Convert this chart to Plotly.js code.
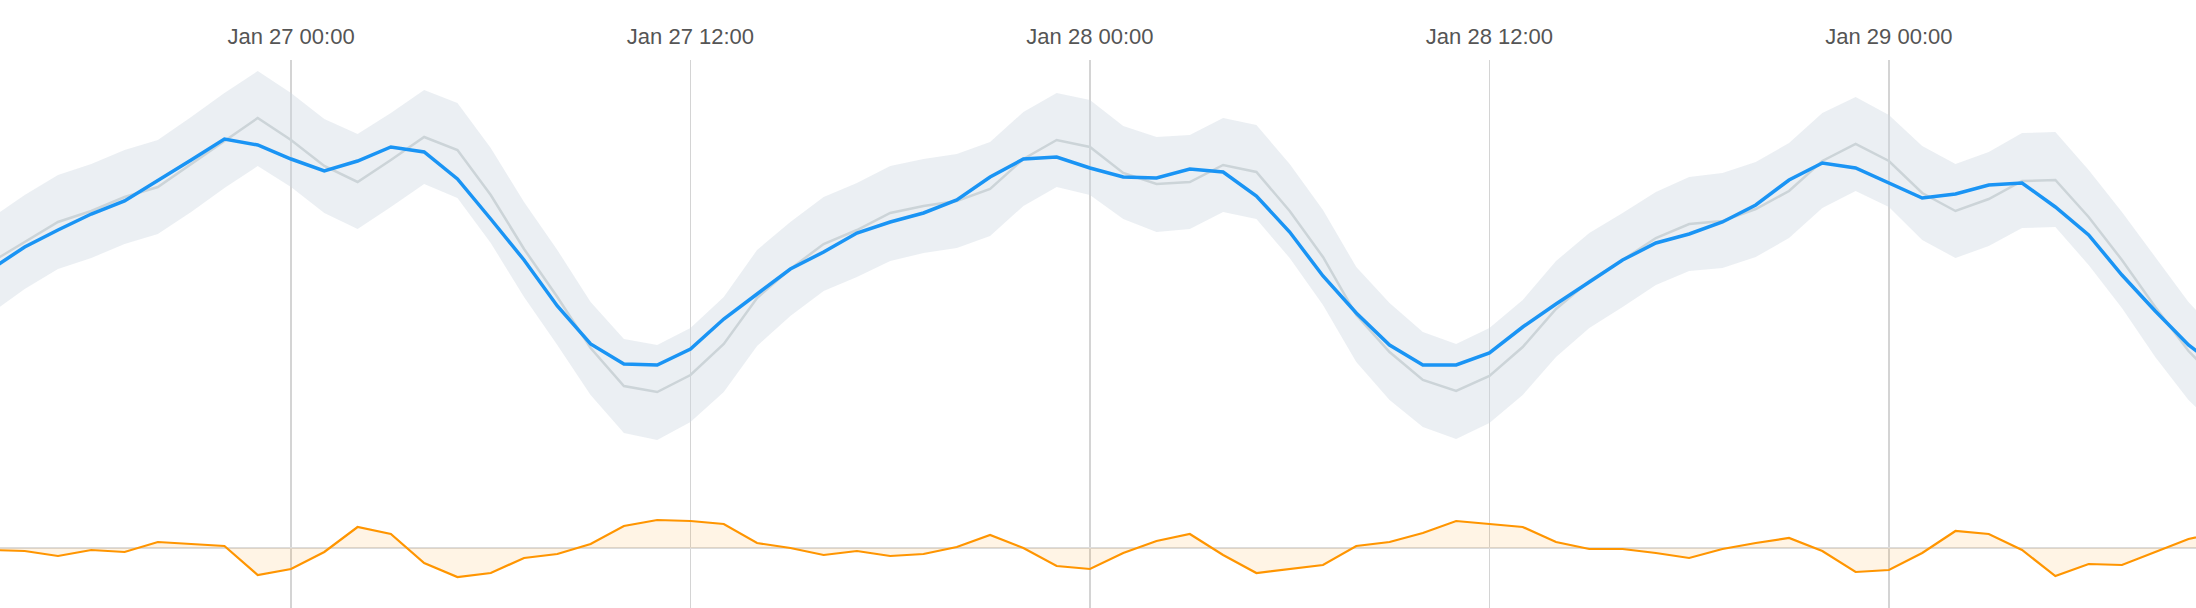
<!DOCTYPE html>
<html>
<head>
<meta charset="utf-8">
<script src="https://cdn.plot.ly/plotly-3.0.1.min.js"></script>
<style>
  html, body { margin: 0; padding: 0; background: #ffffff; }
  #chart { width: 2196px; height: 608px; }
</style>
</head>
<body>
<div id="chart"></div>
<script>
// Hourly samples, starting Jan 26 15:00
const startTime = '2020-01-26T15:00:00';
const hoursCount = 68;

// Actual series (blue)
const actual = [331,353,370,386,399,419,440,461,455,441,429,439,453,448,421,381,340,294,256,236,235,251,281,306,331,348,367,378,387,400,423,441,443,432,423,422,431,428,404,368,324,287,255,235,235,247,273,296,318,340,357,366,378,395,420,437,432,417,402,406,415,417,393,365,325,289,255,230];

// Expected series (grey)
const expected = [338,358,378,389,403,413,436,459,482,460,434,418,440,463,450,405,351,303,252,214,208,225,256,302,331,356,370,387,394,399,411,441,460,453,427,416,418,435,428,389,343,285,248,220,209,224,253,291,319,340,362,376,379,391,409,439,456,439,407,389,401,419,420,383,340,293,249,215];

// Confidence band
const upperBound = [382,405,425,436,450,460,483,507,529,507,481,466,487,510,497,452,398,350,298,261,255,272,303,350,378,403,417,434,441,446,458,488,507,500,474,463,465,482,475,436,390,333,297,268,256,272,300,339,367,387,408,423,427,438,457,487,503,485,454,436,448,467,468,430,388,343,298,262];
const lowerBound = [287,311,331,342,356,366,388,412,434,413,387,371,393,416,402,357,303,255,205,167,160,178,208,254,284,309,323,339,347,352,364,394,413,405,381,368,371,388,381,342,295,238,200,173,161,177,205,243,272,293,315,329,332,343,362,392,409,393,360,342,354,372,373,335,292,243,200,168];

// Deviation (orange)
const deviation = [-2,-3,-8,-2,-4,6,4,2,-27,-21,-4,21,14,-15,-29,-25,-10,-6,4,22,28,27,24,5,0,-7,-3,-8,-6,1,13,0,-18,-21,-5,7,14,-7,-25,-21,-17,2,6,15,27,24,21,6,-1,-1,-5,-10,-1,5,10,-3,-24,-22,-5,17,14,-2,-28,-16,-17,-4,9,16];

const xRange = ['2020-01-26 15:15:30', '2020-01-29 09:13:30'];
const tickFormat = '%b %d %H:%M';

function pad(n){ return (n < 10 ? '0' : '') + n; }
const t0 = new Date(startTime + 'Z').getTime();
const times = [];
for (let i = 0; i < hoursCount; i++) {
  const d = new Date(t0 + i * 3600000);
  times.push(d.getUTCFullYear() + '-' + pad(d.getUTCMonth() + 1) + '-' + pad(d.getUTCDate()) + ' ' + pad(d.getUTCHours()) + ':00');
}

const traces = [
  { x: times, y: lowerBound, type: 'scatter', mode: 'lines', line: { width: 0, color: 'rgba(0,0,0,0)' }, hoverinfo: 'skip', yaxis: 'y' },
  { x: times, y: upperBound, type: 'scatter', mode: 'lines', line: { width: 0, color: 'rgba(0,0,0,0)' }, fill: 'tonexty', fillcolor: 'rgba(205,214,224,0.40)', hoverinfo: 'skip', yaxis: 'y' },
  { x: times, y: expected, type: 'scatter', mode: 'lines', line: { width: 2.5, color: '#ccd4d8' }, yaxis: 'y' },
  { x: times, y: actual, type: 'scatter', mode: 'lines', line: { width: 3.5, color: '#1a94f4' }, yaxis: 'y' },
  { x: times, y: deviation, type: 'scatter', mode: 'lines', line: { width: 2.2, color: '#ff9500' }, fill: 'tozeroy', fillcolor: 'rgba(255,152,0,0.10)', yaxis: 'y2' }
];

const layout = {
  width: 2196,
  height: 608,
  margin: { l: 0, r: 0, t: 60, b: 0, pad: 0 },
  paper_bgcolor: '#ffffff',
  plot_bgcolor: '#ffffff',
  showlegend: false,
  font: { family: '"Liberation Sans", Arial, Helvetica, sans-serif', color: '#555555', size: 22 },
  xaxis: {
    type: 'date',
    side: 'top',
    range: xRange,
    tick0: '2020-01-27 00:00',
    dtick: 43200000,
    tickformat: tickFormat,
    ticks: '',
    ticklabelstandoff: 11,
    showline: false,
    zeroline: false,
    showgrid: true,
    gridcolor: '#d4d4d4',
    gridwidth: 1.5,
    tickfont: { size: 22, color: '#555555' },
    automargin: false
  },
  yaxis: {
    range: [-8, 540],
    showgrid: false,
    zeroline: false,
    showline: false,
    showticklabels: false,
    ticks: ''
  },
  yaxis2: {
    overlaying: 'y',
    range: [-60, 488],
    showgrid: false,
    zeroline: true,
    zerolinecolor: '#dcdcdc',
    zerolinewidth: 2,
    showline: false,
    showticklabels: false,
    ticks: ''
  }
};

Plotly.newPlot('chart', traces, layout, { staticPlot: true, displayModeBar: false });
</script>
</body>
</html>
